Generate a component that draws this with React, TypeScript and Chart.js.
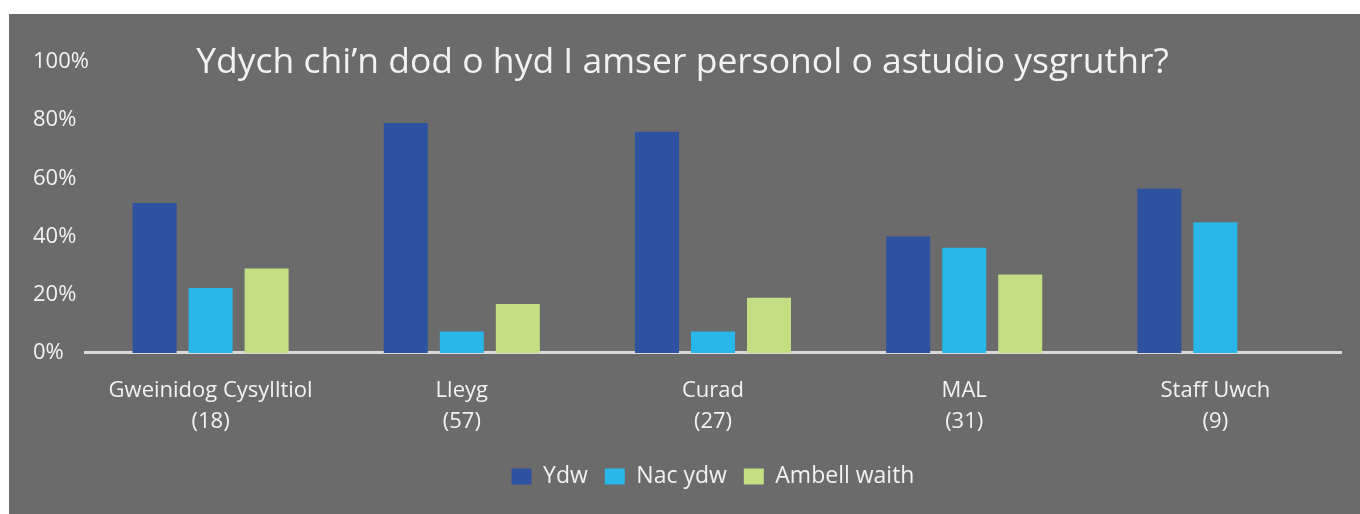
import React, { useEffect, useRef } from "react";
import { Chart, registerables } from "chart.js";

Chart.register(...registerables);

const TITLE = "Ydych chi\u2019n dod o hyd I amser personol o astudio ysgruthr?";
const CATEGORIES: string[][] = [
  ["Gweinidog Cysylltiol", "(18)"],
  ["Lleyg", "(57)"],
  ["Curad", "(27)"],
  ["MAL", "(31)"],
  ["Staff Uwch", "(9)"],
];
const SERIES_NAMES = ["Ydw", "Nac ydw", "Ambell waith"];
const YDW = [51.5, 79, 76, 40, 56.4];
const NAC_YDW = [22.3, 7.4, 7.4, 36.2, 44.9];
const AMBELL_WAITH = [29, 16.8, 19, 27, 0];
const Y_TICKS = [0, 20, 40, 60, 80, 100];

const COLORS = ["#2f52a0", "#29b6e8", "#c4de84"];
const BG = "#6b6b6b";
const TEXT = "#f2f2f2";
const FONT = "'Open Sans', sans-serif";

const titlePlugin = {
  id: "overlayTitle",
  afterDraw(chart: any) {
    const ctx = chart.ctx;
    ctx.save();
    ctx.fillStyle = TEXT;
    ctx.font = `35.5px ${FONT}`;
    ctx.textAlign = "center";
    ctx.textBaseline = "alphabetic";
    ctx.fillText(TITLE, chart.width / 2 - 2, 59);
    ctx.restore();
  },
};

export default function App() {
  const ref = useRef<HTMLCanvasElement | null>(null);
  useEffect(() => {
    if (!ref.current) return;
    const chart = new Chart(ref.current, {
      type: "bar",
      data: {
        labels: CATEGORIES,
        datasets: [
          { label: SERIES_NAMES[0], data: YDW, backgroundColor: COLORS[0] },
          { label: SERIES_NAMES[1], data: NAC_YDW, backgroundColor: COLORS[1] },
          { label: SERIES_NAMES[2], data: AMBELL_WAITH, backgroundColor: COLORS[2] },
        ],
      },
      plugins: [titlePlugin],
      options: {
        animation: false,
        responsive: false,
        maintainAspectRatio: false,
        layout: { padding: { left: 24, right: 19, top: 48, bottom: 16 } },
        datasets: { bar: { categoryPercentage: 0.669, barPercentage: 0.786 } },
        scales: {
          x: {
            afterFit(scale: any) {
              scale.height = scale.height - 11;
            },
            grid: { display: false, drawTicks: false },
            border: { display: true, color: "#d9d9d9", width: 3 },
            ticks: {
              color: TEXT,
              font: { family: FONT, size: 22, lineHeight: 1.41 },
              padding: 22,
              maxRotation: 0,
              autoSkip: false,
            },
          },
          y: {
            min: 0,
            max: 100,
            afterBuildTicks(scale: any) {
              scale.ticks = Y_TICKS.map((v) => ({ value: v }));
            },
            afterFit(scale: any) {
              scale.width = 52;
              scale._computeLabelArea = () => undefined;
            },
            grid: { display: false, drawTicks: false },
            border: { display: false },
            ticks: {
              color: TEXT,
              crossAlign: "far",
              font: { family: FONT, size: 22 },
              padding: 0,
              callback: (v: any) => `${v}%`,
            },
          },
        },
        plugins: {
          title: { display: false },
          tooltip: { enabled: false },
          legend: {
            position: "bottom",
            fullSize: false,
            labels: {
              color: TEXT,
              boxWidth: 20,
              boxHeight: 16,
              padding: 17,
              font: { family: FONT, size: 23 },
            },
          },
        },
      },
    });
    return () => chart.destroy();
  }, []);
  return (
    <div
      style={{
        position: "absolute",
        left: 9,
        top: 14,
        width: 1351,
        height: 500,
        background: BG,
      }}
    >
      <canvas ref={ref} width={1351} height={500} style={{ display: "block" }} />
    </div>
  );
}
